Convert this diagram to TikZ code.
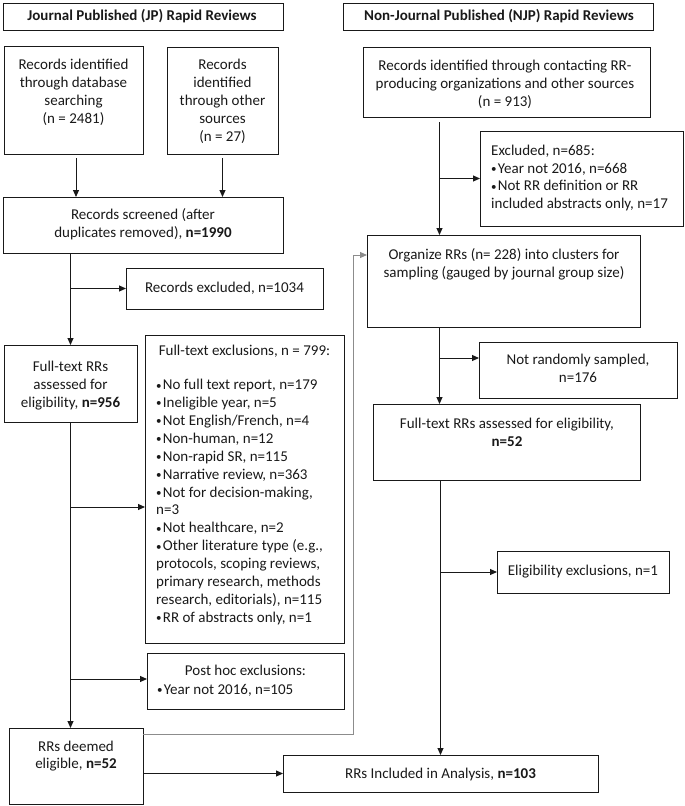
\documentclass[tikz,border=0pt]{standalone}
\usepackage{fontspec}
\setmainfont{Carlito}
\usetikzlibrary{arrows.meta}
\newcommand{\fs}{\fontsize{15}{17.9}\selectfont}
\newcommand{\bul}{{\fontsize{11}{11}\selectfont\raisebox{0.6pt}{•}}\kern1.2pt}
\begin{document}
\begin{tikzpicture}[x=1pt,y=-1pt,
  bx/.style={draw=black!90, line width=1pt, inner sep=0pt, outer sep=0pt, rectangle},
  txt/.style={font=\fs, text=black!90, inner sep=0pt, align=center, execute at begin node={\strut}, execute at end node={\strut}},
  ltxt/.style={txt, align=left, anchor=west},
  arr/.style={draw=black!90, line width=1pt, -{Triangle[length=7pt,width=6pt]}},
  garr/.style={draw=black!45, line width=1pt, -{Triangle[length=7pt,width=6pt]}}]
\useasboundingbox (0,0) rectangle (685,806);
% boxes
\node[bx, minimum width=280pt, minimum height=27pt] (jph) at (143,16.5) {};
\node[bx, minimum width=310pt, minimum height=27pt] (njph) at (498,16.5) {};
\node[bx, minimum width=139pt, minimum height=108pt] (db) at (73.5,100) {};
\node[bx, minimum width=111pt, minimum height=107pt] (oth) at (222.5,100.5) {};
\node[bx, minimum width=280pt, minimum height=56pt] (scr) at (143,225) {};
\node[bx, minimum width=197pt, minimum height=41pt] (rex) at (224.5,288.5) {};
\node[bx, minimum width=133pt, minimum height=77pt] (ftj) at (70.5,383.5) {};
\node[bx, minimum width=199pt, minimum height=308pt] (fte) at (244.5,489) {};
\node[bx, minimum width=197pt, minimum height=56pt] (phe) at (245.5,681) {};
\node[bx, minimum width=134pt, minimum height=76pt] (dee) at (76,766) {};
\node[bx, minimum width=315pt, minimum height=37pt] (inc) at (440.5,773.5) {};
\node[bx, minimum width=287pt, minimum height=70pt] (con) at (506.5,82) {};
\node[bx, minimum width=203pt, minimum height=95pt] (exn) at (581.5,178.5) {};
\node[bx, minimum width=273pt, minimum height=92pt] (org) at (503.5,281) {};
\node[bx, minimum width=198pt, minimum height=56pt] (nrs) at (578,370) {};
\node[bx, minimum width=267pt, minimum height=76pt] (ftn) at (506.5,442) {};
\node[bx, minimum width=172pt, minimum height=42pt] (eex) at (583,572) {};
% texts
\node[txt] (jpt) at (142,17) {\textbf{Journal Published (JP) Rapid Reviews}};
\node[txt] (njt) at (499,17) {\textbf{Non-Journal Published (NJP) Rapid Reviews}};
\node[txt] (dbt) at (73.5,94) {Records identified\\through database\\searching\\(n = 2481)};
\node[txt] (otht) at (222.5,103) {Records\\identified\\through other\\sources\\(n = 27)};
\node[txt] (scrt) at (143,226) {Records screened (after\\duplicates removed), \textbf{n=1990}};
\node[txt] (rext) at (224.5,289) {Records excluded, n=1034};
\node[txt] (ftjt) at (70.5,387) {Full-text RRs\\assessed for\\eligibility, \textbf{n=956}};
\node[txt] (fteh) at (244.5,352) {Full-text exclusions, n = 799:};
\node[ltxt] (ftel) at (156,503.5) {\bul No full text report, n=179\\\bul Ineligible year, n=5\\\bul Not English/French, n=4\\\bul Non-human, n=12\\\bul Non-rapid SR, n=115\\\bul Narrative review, n=363\\\bul Not for decision-making,\\n=3\\\bul Not healthcare, n=2\\\bul Other literature type (e.g.,\\protocols, scoping reviews,\\primary research, methods\\research, editorials), n=115\\\bul RR of abstracts only, n=1};
\node[txt] (pheh) at (245.5,672) {Post hoc exclusions:};
\node[ltxt] (phel) at (157,691) {\bul Year not 2016, n=105};
\node[txt] (deet) at (76,757.5) {RRs deemed\\eligible, \textbf{n=52}};
\node[txt] (inct) at (440.5,775) {RRs Included in Analysis, \textbf{n=103}};
\node[txt] (cont) at (505,86) {Records identified through contacting RR-\\producing organizations and other sources\\(n = 913)};
\node[ltxt] (exnt) at (491,179.5) {Excluded, n=685:\\\bul Year not 2016, n=668\\\bul Not RR definition or RR\\included abstracts only, n=17};
\node[txt] (orgt) at (504,265.5) {Organize RRs (n= 228) into clusters for\\sampling (gauged by journal group size)};
\node[txt] (nrst) at (578,371) {Not randomly sampled,\\n=176};
\node[txt] (ftnt) at (507,435) {Full-text RRs assessed for eligibility,\\\textbf{n=52}};
\node[txt] (eext) at (583,572) {Eligibility exclusions, n=1};
% helper coordinates
\coordinate (nx) at (439.5,0);
\coordinate (b1) at (70.5,507);
\coordinate (b2) at (70.5,679);
\coordinate (b3) at (439.5,358);
\coordinate (g1) at (143,734);
\coordinate (g2) at (353,734);
\coordinate (g3) at (353,255);
% JP connectors
\draw[arr, shorten <=4pt] ([xshift=2.5pt]db.south) -- ([xshift=2.5pt]db.south |- scr.north);
\draw[arr, shorten <=4pt] (oth.south) -- (oth.south |- scr.north);
\draw[arr] (ftj.north |- scr.south) -- (ftj.north);
\draw[arr] (ftj.north |- rex.west) -- (rex.west);
\draw[arr] (b1) -- (b1 -| fte.west);
\draw[arr] (ftj.south) -- (ftj.south |- dee.north);
\draw[arr] (b2) -- (b2 -| phe.west);
\draw[arr] (dee.east |- inc.west) -- (inc.west);
\draw[garr] (g1) -- (g2) -- (g3) -- (g3 -| org.west);
% NJP connectors
\draw[arr, shorten <=5pt] (con.south -| nx) -- (org.north -| nx);
\draw[arr] (exn.west -| nx) -- (exn.west);
\draw[arr] (org.south -| nx) -- (ftn.north -| nx);
\draw[arr] (b3) -- (b3 -| nrs.west);
\draw[arr] (ftn.south -| inc.north) -- (inc.north);
\draw[arr] (eex.west -| inc.north) -- (eex.west);
\end{tikzpicture}
\end{document}
